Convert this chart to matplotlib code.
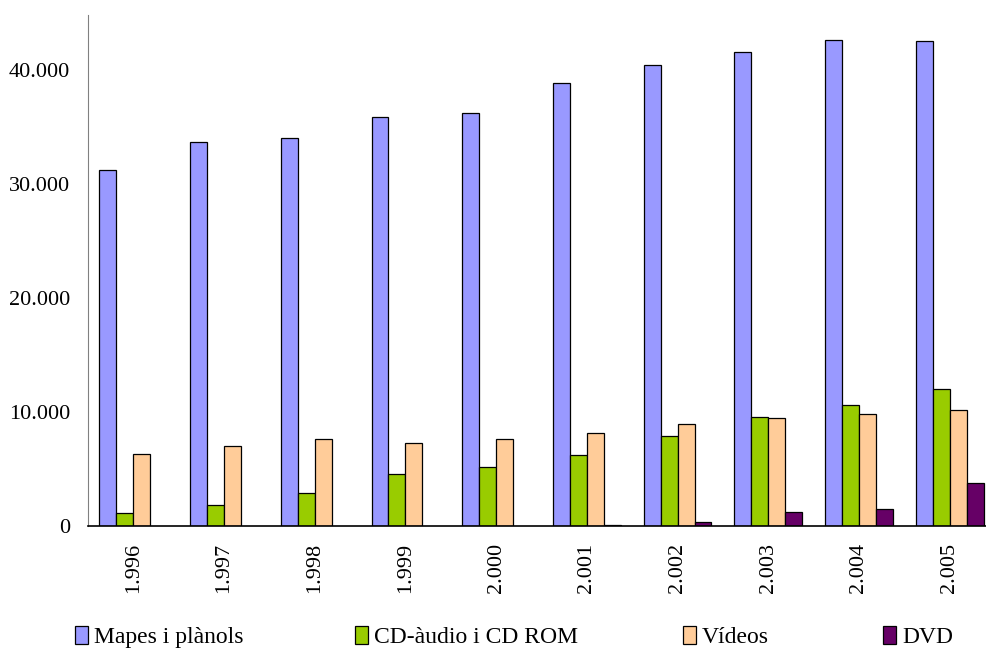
import numpy as np
import matplotlib
matplotlib.use("Agg")
import matplotlib.pyplot as plt
from matplotlib.ticker import FuncFormatter

plt.rcParams['font.family'] = ['Liberation Serif', 'DejaVu Serif']

years = ["1.996", "1.997", "1.998", "1.999", "2.000", "2.001", "2.002", "2.003", "2.004", "2.005"]
series_names = ["Mapes i plànols", "CD-àudio i CD ROM", "Vídeos", "DVD"]
mapes = [31250, 33700, 34050, 35900, 36250, 38800, 40450, 41600, 42650, 42550]
cd = [1150, 1800, 2850, 4600, 5200, 6250, 7900, 9600, 10600, 12050]
videos = [6300, 7000, 7600, 7300, 7600, 8150, 8950, 9500, 9800, 10200]
dvd = [0, 0, 0, 0, 0, 90, 320, 1200, 1450, 3750]
colors = ["#9999FF", "#99CC00", "#FFCC99", "#660066"]

fig = plt.figure(figsize=(9.86, 6.5), dpi=100)
ax = fig.add_axes([88 / 986, 1 - 526 / 650, 907 / 986, 511 / 650])

x = np.arange(len(years))
w = 0.187
bars = []
for i, (vals, c) in enumerate(zip([mapes, cd, videos, dvd], colors)):
    vals = np.array(vals, dtype=float)
    # zero values are not drawn (no outline on the baseline)
    vals[vals == 0] = np.nan
    b = ax.bar(x - 1.5 * w + i * w, vals, w, color=c, edgecolor="black", linewidth=0.9,
               label=series_names[i], zorder=3)
    bars.append(b)

ax.set_xlim(-0.5, 9.5)
ax.set_ylim(0, 44800)
ax.set_yticks([0, 10000, 20000, 30000, 40000])
ax.yaxis.set_major_formatter(FuncFormatter(lambda v, p: f"{int(v):,}".replace(",", ".")))
ax.set_xticks(x)
ax.set_xticklabels(years, rotation=90)
ax.tick_params(axis="both", length=0, labelsize=16)
ax.tick_params(axis="x", pad=12)
ax.tick_params(axis="y", pad=13)
for s in ["top", "right"]:
    ax.spines[s].set_visible(False)
ax.spines["left"].set_color("#808080")
ax.spines["bottom"].set_color("black")
ax.spines["bottom"].set_linewidth(1.2)
ax.spines["bottom"].set_zorder(4)

legend_x = [75, 355, 683, 883]
for b, name, lx in zip(bars, series_names, legend_x):
    fig.legend([b], [name], loc="center left", bbox_to_anchor=(lx / 986 - 0.012, 1 - 637 / 650),
               frameon=False, fontsize=17, handlelength=0.55, handleheight=0.8,
               handletextpad=0.25, borderpad=0)

fig.savefig("out.png", dpi=100)
